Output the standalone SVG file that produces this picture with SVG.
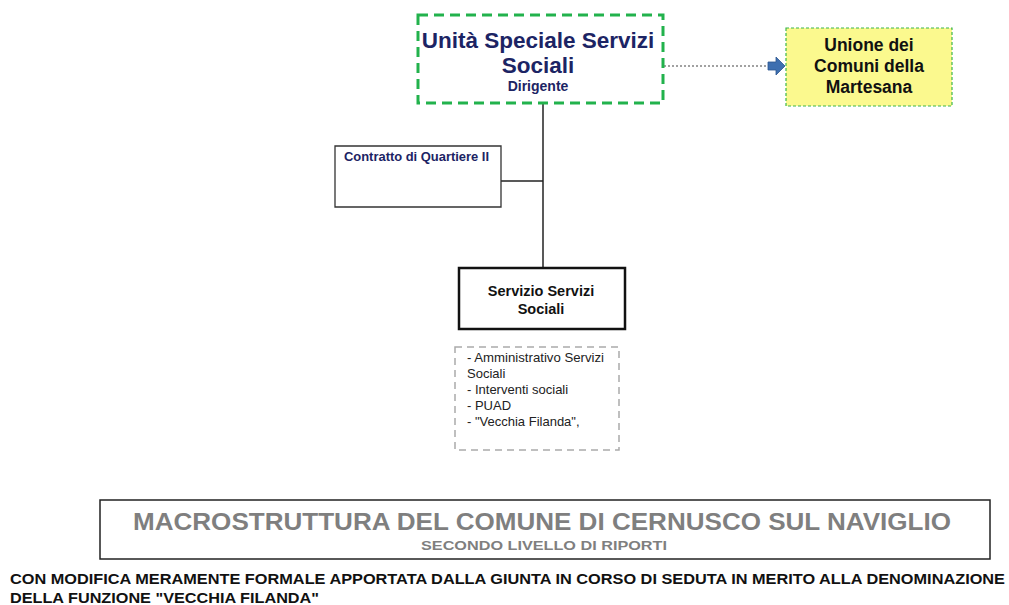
<svg xmlns="http://www.w3.org/2000/svg" width="1009" height="605" viewBox="0 0 1009 605">
<style>
text{font-family:"Liberation Sans",Arial,sans-serif;font-weight:bold}
.navy{fill:#1c2464}
.blk{fill:#111}
.list{font-weight:normal;font-size:13px;fill:#222}
.ln{stroke:#222;stroke-width:1.5;fill:none}
</style>
<rect width="1009" height="605" fill="#fff"/>
<g id="connectors">
<line class="ln" x1="543" y1="104" x2="543" y2="268"/>
<line class="ln" x1="501" y1="181" x2="543" y2="181"/>
<line x1="664" y1="66" x2="768" y2="66" stroke="#444" stroke-width="1.2" stroke-dasharray="2,2"/>
<path d="M768,62 H776 V57 L785,66 L776,75 V70 H768 Z" fill="#3e6fb0" stroke="#2b5590" stroke-width="0.8"/>
</g>
<g id="unita">
<rect x="418" y="15" width="245" height="88" fill="#fff" stroke="#22b24c" stroke-width="3" stroke-dasharray="10,6"/>
<text class="navy" x="538" y="48" font-size="22.5" text-anchor="middle">Unità Speciale Servizi</text>
<text class="navy" x="538" y="73" font-size="22.5" text-anchor="middle">Sociali</text>
<text class="navy" x="538" y="91" font-size="14" text-anchor="middle">Dirigente</text>
</g>
<g id="unione">
<rect x="786" y="28" width="166" height="78" fill="#fbf98e" stroke="#3cb64a" stroke-width="1.2" stroke-dasharray="3,2"/>
<text class="blk" x="869" y="51" font-size="17.5" text-anchor="middle">Unione dei</text>
<text class="blk" x="869" y="72" font-size="17.5" text-anchor="middle">Comuni della</text>
<text class="blk" x="869" y="93" font-size="17.5" text-anchor="middle">Martesana</text>
</g>
<g id="contratto">
<path d="M335,146 H501 V207 H335 Z" fill="#fff" stroke="#333" stroke-width="1.3"/>
<text class="navy" x="344" y="161" font-size="12.5" textLength="145" lengthAdjust="spacingAndGlyphs">Contratto di Quartiere II</text>
</g>
<g id="servizio">
<rect x="459" y="268" width="166" height="61" fill="#fff" stroke="#111" stroke-width="2.5"/>
<text class="blk" x="541" y="296" font-size="14.5" text-anchor="middle">Servizio Servizi</text>
<text class="blk" x="541" y="314" font-size="14.5" text-anchor="middle">Sociali</text>
</g>
<g id="funzioni">
<rect x="455" y="347" width="164" height="103" fill="#fff" stroke="#aaa" stroke-width="1.5" stroke-dasharray="7,5"/>
<text class="list" x="467" y="362" textLength="137" lengthAdjust="spacingAndGlyphs">- Amministrativo Servizi</text>
<text class="list" x="467" y="378">Sociali</text>
<text class="list" x="467" y="394">- Interventi sociali</text>
<text class="list" x="467" y="410">- PUAD</text>
<text class="list" x="467" y="426">- "Vecchia Filanda",</text>
</g>
<g id="titolo">
<rect x="100" y="500" width="890" height="59" fill="#fff" stroke="#222" stroke-width="1.5"/>
<text x="542" y="530" font-size="24" fill="#7f7f7f" text-anchor="middle" textLength="818" lengthAdjust="spacingAndGlyphs">MACROSTRUTTURA DEL COMUNE DI CERNUSCO SUL NAVIGLIO</text>
<text x="544" y="550" font-size="13" fill="#7f7f7f" text-anchor="middle" textLength="246" lengthAdjust="spacingAndGlyphs">SECONDO LIVELLO DI RIPORTI</text>
</g>
<g id="nota">
<text class="blk" x="10" y="584" font-size="15" textLength="995" lengthAdjust="spacingAndGlyphs">CON MODIFICA MERAMENTE FORMALE APPORTATA DALLA GIUNTA IN CORSO DI SEDUTA IN MERITO ALLA DENOMINAZIONE</text>
<text class="blk" x="10" y="603" font-size="15" textLength="309" lengthAdjust="spacingAndGlyphs">DELLA FUNZIONE "VECCHIA FILANDA"</text>
</g>
</svg>
